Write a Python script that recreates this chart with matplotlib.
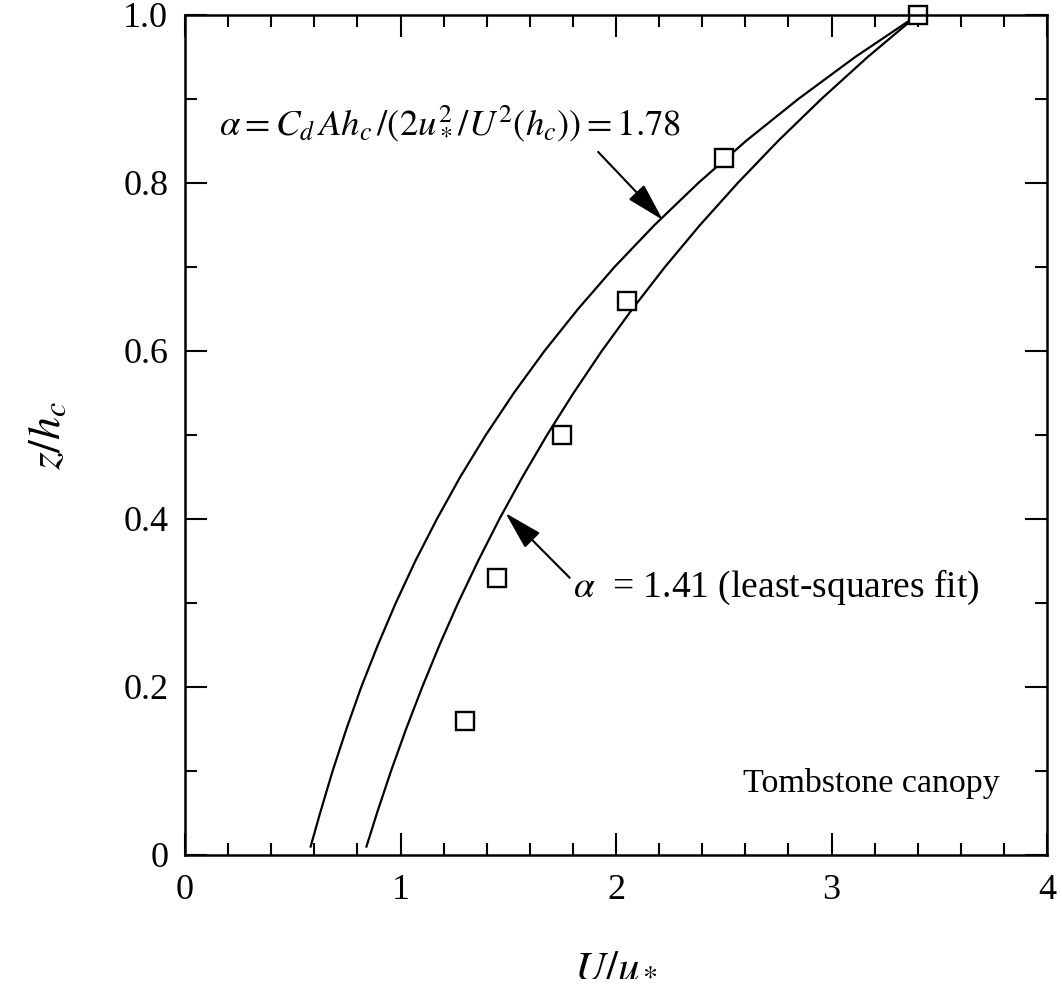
import matplotlib
matplotlib.use('Agg')
import matplotlib.pyplot as plt
from matplotlib.ticker import MultipleLocator

plt.rcParams['font.family'] = ['Liberation Serif', 'DejaVu Serif']
plt.rcParams['mathtext.fontset'] = 'stix'

# heights for the two model curves
z_curve = [0.01, 0.05, 0.10, 0.15, 0.20, 0.25, 0.30, 0.35, 0.40, 0.45, 0.50,
           0.55, 0.60, 0.65, 0.70, 0.75, 0.80, 0.85, 0.90, 0.95, 1.00]
# alpha = 1.78
u_curve_178 = [0.583, 0.627, 0.685, 0.749, 0.818, 0.895, 0.978, 1.069, 1.169, 1.277, 1.396,
               1.526, 1.668, 1.824, 1.993, 2.179, 2.382, 2.603, 2.846, 3.110, 3.400]
# alpha = 1.41 (least-squares fit)
u_curve_141 = [0.842, 0.891, 0.956, 1.026, 1.101, 1.181, 1.267, 1.360, 1.459, 1.566, 1.680,
               1.803, 1.934, 2.076, 2.227, 2.390, 2.565, 2.752, 2.953, 3.168, 3.400]

# measured points
u_meas = [1.30, 1.45, 1.75, 2.05, 2.50, 3.40]
z_meas = [0.16, 0.33, 0.50, 0.66, 0.83, 1.00]

x_ticks = [0, 1, 2, 3, 4]
x_labels = ['0', '1', '2', '3', '4']
y_ticks = [0, 0.2, 0.4, 0.6, 0.8, 1.0]
y_labels = ['0', '0.2', '0.4', '0.6', '0.8', '1.0']

fig = plt.figure(figsize=(10.62, 10.05), dpi=100)
ax = fig.add_axes([0.1742, 0.1493, 0.8117, 0.8358])

ax.plot(u_curve_178, z_curve, color='black', lw=1.6)
ax.plot(u_curve_141, z_curve, color='black', lw=1.6)
ax.plot(u_meas, z_meas, ls='none', marker='s', ms=13, mfc='white', mec='black', mew=1.7,
        clip_on=False)

ax.set_xlim(0, 4)
ax.set_ylim(0, 1.0)
ax.set_xticks(x_ticks)
ax.set_xticklabels(x_labels, fontsize=26)
ax.set_yticks(y_ticks)
ax.set_yticklabels(y_labels, fontsize=26)
ax.xaxis.set_minor_locator(MultipleLocator(0.2))
ax.yaxis.set_minor_locator(MultipleLocator(0.1))

ax.tick_params(which='both', direction='in', top=True, right=True, width=1.5)
ax.tick_params(which='major', length=16)
ax.tick_params(which='minor', length=8.5)
ax.tick_params(axis='x', pad=14)
ax.tick_params(axis='y', pad=12)
for s in ax.spines.values():
    s.set_linewidth(1.8)

ax.set_xlabel('$U/u_*$', fontsize=31, labelpad=28)
ax.set_ylabel('$z/h_c$', fontsize=33, labelpad=38)

ax.text(0.16, 0.873, r'$\alpha = C_d\,Ah_c\,/(2u_*^2/U^2(h_c)) = 1.78$', fontsize=26.5,
        va='center', ha='left')
ax.annotate('', xy=(2.217, 0.756), xytext=(1.917, 0.837),
            arrowprops=dict(arrowstyle='-|>,head_length=0.8,head_width=0.22', color='black',
                            lw=1.5, mutation_scale=30, shrinkA=0, shrinkB=0))

ax.text(1.80, 0.318, r'$\alpha$  = 1.41 (least-squares fit)', fontsize=27,
        va='center', ha='left')
ax.annotate('', xy=(1.487, 0.407), xytext=(1.785, 0.330),
            arrowprops=dict(arrowstyle='-|>,head_length=0.8,head_width=0.22', color='black',
                            lw=1.5, mutation_scale=30, shrinkA=0, shrinkB=0))

ax.text(3.78, 0.085, 'Tombstone canopy', fontsize=24.5, va='center', ha='right')

fig.savefig('out.png', dpi=100)
